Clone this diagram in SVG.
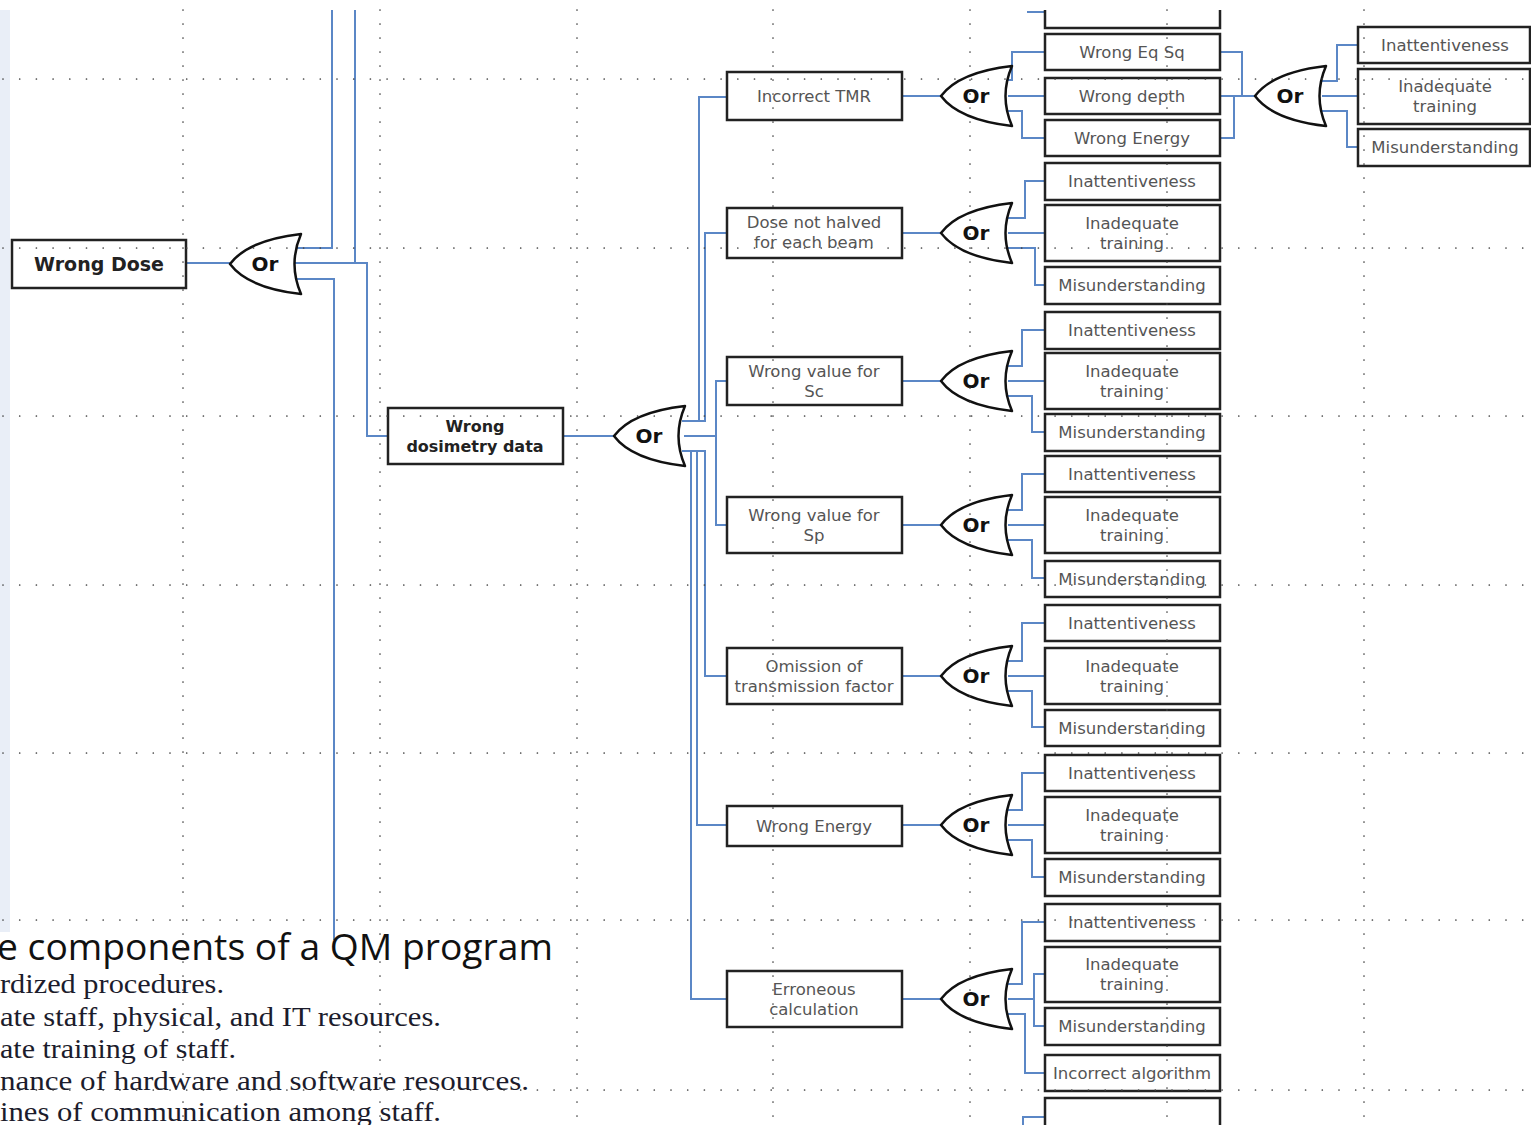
<svg xmlns="http://www.w3.org/2000/svg" width="1531" height="1125" viewBox="0 0 1531 1125">
<style>
.box{fill:#fff;stroke:#222;stroke-width:2.5}
.lbl{font-family:"DejaVu Sans",sans-serif;font-size:16.5px;fill:#555;text-anchor:middle;dominant-baseline:central}
.blbl{font-family:"DejaVu Sans",sans-serif;font-weight:bold;fill:#222;text-anchor:middle;dominant-baseline:central}
.gate{fill:#fff;stroke:#111;stroke-width:2.5;stroke-linejoin:round}
.or{font-family:"DejaVu Sans",sans-serif;font-weight:bold;font-size:20px;fill:#111;text-anchor:middle;dominant-baseline:central}
.conn{fill:none;stroke:#5b87c6;stroke-width:2}
.gv{stroke:#444;stroke-width:1.7;stroke-linecap:round;stroke-dasharray:0 14;fill:none}
.gh{stroke:#444;stroke-width:1.7;stroke-linecap:round;stroke-dasharray:0 16.7;fill:none}
.ser{font-family:"Liberation Serif",serif;font-size:27px;fill:#1c1c2c}
</style>
<defs>
<path id="orgate" d="M0,0 C12,-16 36,-26 71,-30 Q58,0 71,30 C36,26 12,16 0,0 Z"/>
</defs>
<rect x="0" y="0" width="1531" height="1125" fill="#fff"/>
<rect x="0" y="10" width="10" height="922" fill="#e9eef7"/>

<g id="connectors" class="conn">
<path d="M186,263 H230"/>
<path d="M297,248 H332 V10"/>
<path d="M355,10 V263"/>
<path d="M293,263 H367 V436 H388"/>
<path d="M297,279 H334 V940"/>
<path d="M563,436 H614"/>
<path d="M682,421 H699 V97 H727"/>
<path d="M682,421 H705 V233 H727"/>
<path d="M684,436 H716 V381 H727"/>
<path d="M716,436 V525 H727"/>
<path d="M682,451 H705 V676 H727"/>
<path d="M682,451 H697 V825 H727"/>
<path d="M682,451 H691 V999 H727"/>
<!-- group 1 -->
<path d="M902,96 H941"/>
<path d="M1005,80 H1012 V52 H1045"/>
<path d="M1008,96 H1045"/>
<path d="M1005,111 H1022 V138 H1045"/>
<path d="M1027,12 H1045"/>
<path d="M1220,52 H1242 V96"/>
<path d="M1220,96 H1255"/>
<path d="M1220,138 H1234 V96"/>
<path d="M1320,81 H1337 V45 H1358"/>
<path d="M1322,96 H1358"/>
<path d="M1320,111 H1347 V147 H1358"/>
<!-- group 2 -->
<path d="M902,233 H941"/>
<path d="M1005,218 H1025 V181 H1045"/>
<path d="M1008,233 H1045"/>
<path d="M1005,248 H1035 V285 H1045"/>
<!-- group 3 -->
<path d="M902,381 H941"/>
<path d="M1005,366 H1022 V330 H1045"/>
<path d="M1008,381 H1045"/>
<path d="M1005,396 H1032 V432 H1045"/>
<!-- group 4 -->
<path d="M902,525 H941"/>
<path d="M1005,510 H1022 V474 H1045"/>
<path d="M1008,525 H1045"/>
<path d="M1005,540 H1032 V578 H1045"/>
<!-- group 5 -->
<path d="M902,676 H941"/>
<path d="M1005,661 H1022 V623 H1045"/>
<path d="M1008,676 H1045"/>
<path d="M1005,691 H1032 V727 H1045"/>
<!-- group 6 -->
<path d="M902,825 H941"/>
<path d="M1005,810 H1022 V773 H1045"/>
<path d="M1008,825 H1045"/>
<path d="M1005,840 H1032 V877 H1045"/>
<!-- group 7 -->
<path d="M902,999 H941"/>
<path d="M1005,984 H1022 V922 H1045"/>
<path d="M1008,999 H1034"/>
<path d="M1045,974 H1034 V1026 H1045"/>
<path d="M1005,1014 H1025 V1073 H1045"/>
<path d="M1023,1125 V1117 H1045"/>
</g>

<g id="n-wrong-dose"><rect class="box" x="12" y="240" width="174" height="48"/><text class="blbl" x="99" y="264" font-size="19">Wrong Dose</text></g>
<g id="g-or1"><use href="#orgate" class="gate" x="230" y="264"/><text class="or" x="265" y="264">Or</text></g>
<g id="n-wrong-dosimetry"><rect class="box" x="388" y="408" width="175" height="56"/><text class="blbl" x="475" y="426" font-size="16">Wrong</text><text class="blbl" x="475" y="446" font-size="16">dosimetry data</text></g>
<g id="g-or2"><use href="#orgate" class="gate" x="614" y="436"/><text class="or" x="649" y="436">Or</text></g>

<g id="n-tmr"><rect class="box" x="727" y="72" width="175" height="48"/><text class="lbl" x="814" y="96">Incorrect TMR</text></g>
<g id="n-dose-halved"><rect class="box" x="727" y="208" width="175" height="50"/><text class="lbl" x="814" y="222">Dose not halved</text><text class="lbl" x="814" y="242">for each beam</text></g>
<g id="n-sc"><rect class="box" x="727" y="357" width="175" height="48"/><text class="lbl" x="814" y="371">Wrong value for</text><text class="lbl" x="814" y="391">Sc</text></g>
<g id="n-sp"><rect class="box" x="727" y="497" width="175" height="56"/><text class="lbl" x="814" y="515">Wrong value for</text><text class="lbl" x="814" y="535">Sp</text></g>
<g id="n-omission"><rect class="box" x="727" y="648" width="175" height="56"/><text class="lbl" x="814" y="666">Omission of</text><text class="lbl" x="814" y="686">transmission factor</text></g>
<g id="n-energy"><rect class="box" x="727" y="806" width="175" height="40"/><text class="lbl" x="814" y="826">Wrong Energy</text></g>
<g id="n-erroneous"><rect class="box" x="727" y="971" width="175" height="56"/><text class="lbl" x="814" y="989">Erroneous</text><text class="lbl" x="814" y="1009">calculation</text></g>

<g id="g-or3a"><use href="#orgate" class="gate" x="941" y="96"/><text class="or" x="976" y="96">Or</text></g>
<g id="g-or3b"><use href="#orgate" class="gate" x="941" y="233"/><text class="or" x="976" y="233">Or</text></g>
<g id="g-or3c"><use href="#orgate" class="gate" x="941" y="381"/><text class="or" x="976" y="381">Or</text></g>
<g id="g-or3d"><use href="#orgate" class="gate" x="941" y="525"/><text class="or" x="976" y="525">Or</text></g>
<g id="g-or3e"><use href="#orgate" class="gate" x="941" y="676"/><text class="or" x="976" y="676">Or</text></g>
<g id="g-or3f"><use href="#orgate" class="gate" x="941" y="825"/><text class="or" x="976" y="825">Or</text></g>
<g id="g-or3g"><use href="#orgate" class="gate" x="941" y="999"/><text class="or" x="976" y="999">Or</text></g>
<g id="g-or4"><use href="#orgate" class="gate" x="1255" y="96"/><text class="or" x="1290" y="96">Or</text></g>

<g id="n-top-partial"><path class="box" d="M1045,10 V28 H1220 V10"/></g>
<g id="n-eqsq"><rect class="box" x="1045" y="34" width="175" height="36"/><text class="lbl" x="1132" y="52">Wrong Eq Sq</text></g>
<g id="n-depth"><rect class="box" x="1045" y="78" width="175" height="36"/><text class="lbl" x="1132" y="96">Wrong depth</text></g>
<g id="n-energy2"><rect class="box" x="1045" y="120" width="175" height="36"/><text class="lbl" x="1132" y="138">Wrong Energy</text></g>

<g id="n-b-inatt"><rect class="box" x="1045" y="163" width="175" height="37"/><text class="lbl" x="1132" y="181">Inattentiveness</text></g>
<g id="n-b-inadeq"><rect class="box" x="1045" y="205" width="175" height="56"/><text class="lbl" x="1132" y="223">Inadequate</text><text class="lbl" x="1132" y="243">training</text></g>
<g id="n-b-mis"><rect class="box" x="1045" y="267" width="175" height="37"/><text class="lbl" x="1132" y="285">Misunderstanding</text></g>

<g id="n-c-inatt"><rect class="box" x="1045" y="312" width="175" height="37"/><text class="lbl" x="1132" y="330">Inattentiveness</text></g>
<g id="n-c-inadeq"><rect class="box" x="1045" y="353" width="175" height="56"/><text class="lbl" x="1132" y="371">Inadequate</text><text class="lbl" x="1132" y="391">training</text></g>
<g id="n-c-mis"><rect class="box" x="1045" y="414" width="175" height="37"/><text class="lbl" x="1132" y="432">Misunderstanding</text></g>

<g id="n-d-inatt"><rect class="box" x="1045" y="456" width="175" height="36"/><text class="lbl" x="1132" y="474">Inattentiveness</text></g>
<g id="n-d-inadeq"><rect class="box" x="1045" y="497" width="175" height="56"/><text class="lbl" x="1132" y="515">Inadequate</text><text class="lbl" x="1132" y="535">training</text></g>
<g id="n-d-mis"><rect class="box" x="1045" y="561" width="175" height="36"/><text class="lbl" x="1132" y="579">Misunderstanding</text></g>

<g id="n-e-inatt"><rect class="box" x="1045" y="605" width="175" height="36"/><text class="lbl" x="1132" y="623">Inattentiveness</text></g>
<g id="n-e-inadeq"><rect class="box" x="1045" y="648" width="175" height="56"/><text class="lbl" x="1132" y="666">Inadequate</text><text class="lbl" x="1132" y="686">training</text></g>
<g id="n-e-mis"><rect class="box" x="1045" y="710" width="175" height="36"/><text class="lbl" x="1132" y="728">Misunderstanding</text></g>

<g id="n-f-inatt"><rect class="box" x="1045" y="755" width="175" height="36"/><text class="lbl" x="1132" y="773">Inattentiveness</text></g>
<g id="n-f-inadeq"><rect class="box" x="1045" y="797" width="175" height="56"/><text class="lbl" x="1132" y="815">Inadequate</text><text class="lbl" x="1132" y="835">training</text></g>
<g id="n-f-mis"><rect class="box" x="1045" y="859" width="175" height="37"/><text class="lbl" x="1132" y="877">Misunderstanding</text></g>

<g id="n-g-inatt"><rect class="box" x="1045" y="904" width="175" height="37"/><text class="lbl" x="1132" y="922">Inattentiveness</text></g>
<g id="n-g-inadeq"><rect class="box" x="1045" y="947" width="175" height="55"/><text class="lbl" x="1132" y="964">Inadequate</text><text class="lbl" x="1132" y="984">training</text></g>
<g id="n-g-mis"><rect class="box" x="1045" y="1008" width="175" height="37"/><text class="lbl" x="1132" y="1026">Misunderstanding</text></g>
<g id="n-g-alg"><rect class="box" x="1045" y="1055" width="175" height="36"/><text class="lbl" x="1132" y="1073">Incorrect algorithm</text></g>
<g id="n-bottom-partial"><path class="box" d="M1045,1126 V1098 H1220 V1126"/></g>

<g id="n-r-inatt"><rect class="box" x="1358" y="27" width="172" height="36"/><text class="lbl" x="1445" y="45">Inattentiveness</text></g>
<g id="n-r-inadeq"><rect class="box" x="1358" y="69" width="172" height="55"/><text class="lbl" x="1445" y="86">Inadequate</text><text class="lbl" x="1445" y="106">training</text></g>
<g id="n-r-mis"><rect class="box" x="1358" y="129" width="172" height="37"/><text class="lbl" x="1445" y="147">Misunderstanding</text></g>

<g id="bottom-text">
<text x="-3" y="960" font-family="'Open Sans',sans-serif" font-size="36" fill="#111" textLength="556" lengthAdjust="spacingAndGlyphs">e components of a QM program</text>
<text class="ser" x="0" y="993" textLength="224" lengthAdjust="spacingAndGlyphs">rdized procedures.</text>
<text class="ser" x="0" y="1026" textLength="441" lengthAdjust="spacingAndGlyphs">ate staff, physical, and IT resources.</text>
<text class="ser" x="0" y="1058" textLength="236" lengthAdjust="spacingAndGlyphs">ate training of staff.</text>
<text class="ser" x="0" y="1090" textLength="529" lengthAdjust="spacingAndGlyphs">nance of hardware and software resources.</text>
<text class="ser" x="0" y="1121" textLength="441" lengthAdjust="spacingAndGlyphs">ines of communication among staff.</text>
</g>

<g id="grid">
<path class="gv" d="M183,10 V1125 M380,10 V1125 M577,10 V1125 M773,10 V1125 M970,10 V1125 M1167,10 V1125 M1364,10 V1125"/>
<path class="gh" d="M3,79 H1531 M3,248 H1531 M3,416 H1531 M3,585 H1531 M3,753 H1531 M3,920 H1531 M3,1090 H1531"/>
</g>
</svg>
